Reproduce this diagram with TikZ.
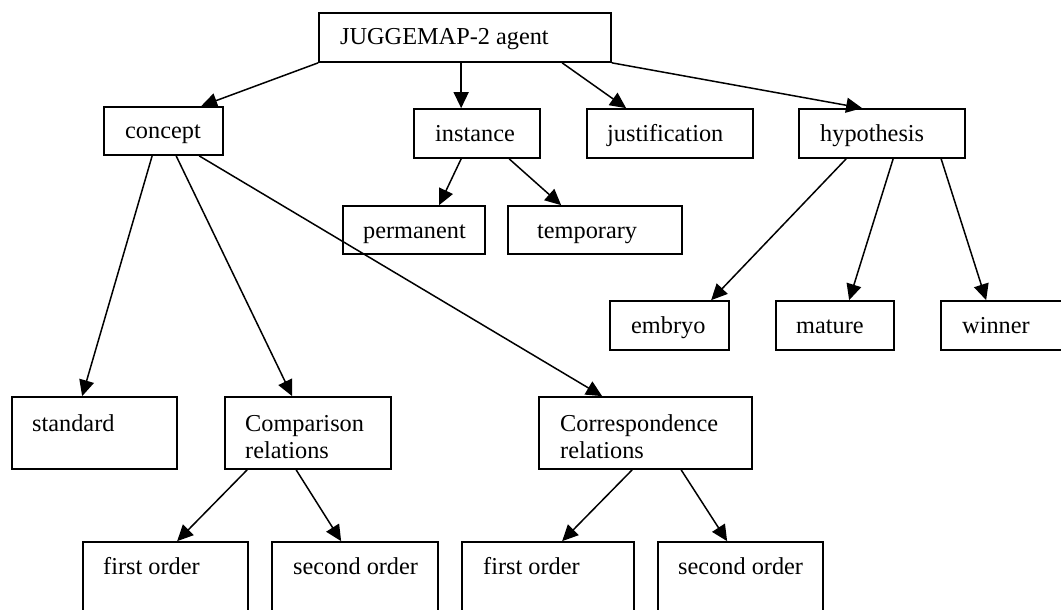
\documentclass[tikz,border=0pt]{standalone}
\usepackage{fontspec}
\setmainfont{Liberation Serif}
\usetikzlibrary{arrows.meta,calc,fit}
\begin{document}
\begin{tikzpicture}[x=1pt,y=-1pt,
  box/.style={draw, line width=1.7pt, inner sep=0pt, rectangle},
  txt/.style={anchor=base west, inner sep=0pt, font=\fontsize{24.3}{27}\selectfont},
  link/.style={line width=1.5pt, -{Triangle[length=16pt,width=15pt]}}]
\useasboundingbox (0,0) rectangle (1061,610);
\clip (0,0) rectangle (1061,610);

% boxes
\node[box, fit={(319,13) (611,62)}] (root) {};
\node[box, fit={(104,107) (223,155)}] (concept) {};
\node[box, fit={(414,109) (540,158)}] (instance) {};
\node[box, fit={(587,109) (753,158)}] (justif) {};
\node[box, fit={(799,109) (965,158)}] (hyp) {};
\node[box, fit={(343,206) (485,254)}] (perm) {};
\node[box, fit={(508,206) (682,254)}] (temp) {};
\node[box, fit={(610,301) (729,350)}] (embryo) {};
\node[box, fit={(776,301) (894,350)}] (mature) {};
\node[box, fit={(941,301) (1090,350)}] (winner) {};
\node[box, fit={(12,397) (177,469)}] (standard) {};
\node[box, fit={(225,397) (391,469)}] (comparison) {};
\node[box, fit={(539,397) (752,469)}] (corresp) {};
\node[box, fit={(83,542) (248,640)}] (fo1) {};
\node[box, fit={(272,542) (438,640)}] (so1) {};
\node[box, fit={(462,542) (634,640)}] (fo2) {};
\node[box, fit={(658,542) (823,640)}] (so2) {};

% labels
\node[txt] (root-t) at (340,45) {JUGGEMAP-2 agent};
\node[txt] (concept-t) at (125,138) {concept};
\node[txt] (instance-t) at (435,142) {instance};
\node[txt] (justif-t) at (607,142) {justification};
\node[txt] (hyp-t) at (820,142) {hypothesis};
\node[txt] (perm-t) at (363,238) {permanent};
\node[txt] (temp-t) at (537,238) {temporary};
\node[txt] (embryo-t) at (631,333) {embryo};
\node[txt] (mature-t) at (796,333) {mature};
\node[txt] (winner-t) at (962,333) {winner};
\node[txt] (standard-t) at (32,431) {standard};
\node[txt] (comparison-t1) at (245,431) {Comparison};
\node[txt] (comparison-t2) at (245,458) {relations};
\node[txt] (corresp-t1) at (560,431) {Correspondence};
\node[txt] (corresp-t2) at (560,458) {relations};
\node[txt] (fo1-t) at (103,574) {first order};
\node[txt] (so1-t) at (293,574) {second order};
\node[txt] (fo2-t) at (483,574) {first order};
\node[txt] (so2-t) at (678,574) {second order};

% connectors
\draw[link] (root.south west) -- ($(concept.north west)+(98,0)$);
\draw[link] ($(root.south west)+(143,0)$) -- ($(instance.north west)+(48,0)$);
\draw[link] ($(root.south west)+(244,0)$) -- ($(justif.north west)+(40,0)$);
\draw[link] (root.south east) -- ($(hyp.north west)+(64,0)$);
\draw[link] ($(instance.south west)+(48,0)$) -- ($(perm.north west)+(97,0)$);
\draw[link] ($(instance.south west)+(96,0)$) -- ($(temp.north west)+(54,0)$);
\draw[link] ($(hyp.south west)+(48,0)$) -- ($(embryo.north west)+(102,0)$);
\draw[link] ($(hyp.south west)+(95,0)$) -- ($(mature.north west)+(74,0)$);
\draw[link] ($(hyp.south west)+(143,0)$) -- ($(winner.north west)+(46,0)$);
\draw[link] ($(concept.south west)+(49,0)$) -- ($(standard.north west)+(71,0)$);
\draw[link] ($(concept.south west)+(73,0)$) -- ($(comparison.north west)+(68,0)$);
\draw[link] ($(concept.south west)+(96,0)$) -- ($(corresp.north west)+(64,0)$);
\draw[link] ($(comparison.south west)+(23,0)$) -- ($(fo1.north west)+(95,0)$);
\draw[link] ($(comparison.south west)+(72,0)$) -- ($(so1.north west)+(70,0)$);
\draw[link] ($(corresp.south west)+(94,0)$) -- ($(fo2.north west)+(101,0)$);
\draw[link] ($(corresp.south west)+(143,0)$) -- ($(so2.north west)+(70,0)$);
\end{tikzpicture}
\end{document}
